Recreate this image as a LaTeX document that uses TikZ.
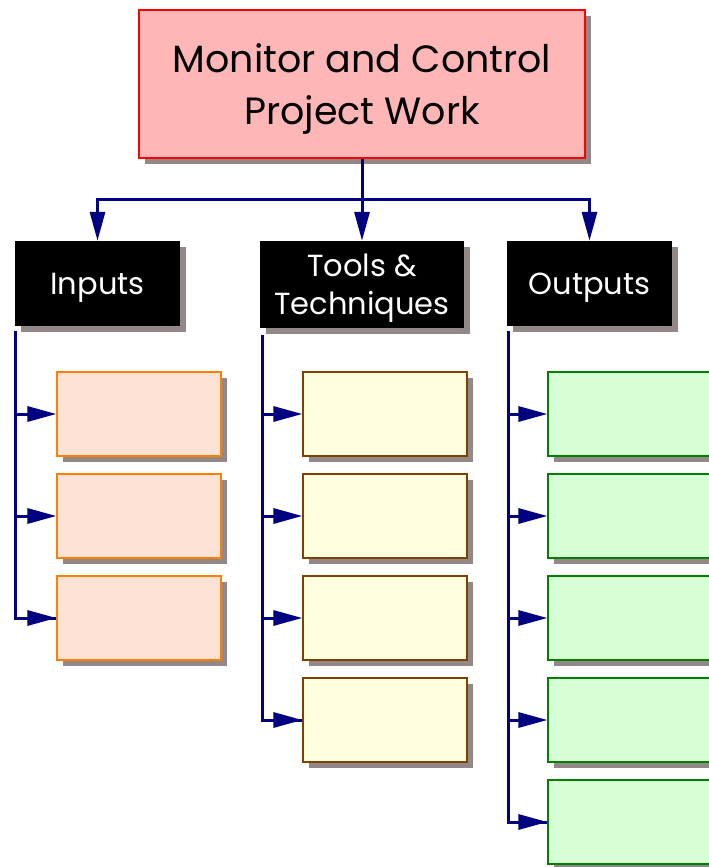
\documentclass[tikz,border=0pt]{standalone}
\usepackage{fontspec}
\setmainfont{Poppins}
\usetikzlibrary{shadows,arrows.meta}

\definecolor{topfill}{HTML}{FFB6B6}
\definecolor{infill}{HTML}{FFE2D6}
\definecolor{inline}{HTML}{FF8000}
\definecolor{toolfill}{HTML}{FFFFE0}
\definecolor{toolline}{HTML}{804000}
\definecolor{outfill}{HTML}{D6FFD6}
\definecolor{outline}{HTML}{008000}
\definecolor{shadowgray}{HTML}{938888}
\definecolor{linknavy}{HTML}{000080}

\tikzset{
  boxshadow/.style={drop shadow={shadow xshift=6pt,shadow yshift=-6pt,fill=shadowgray,opacity=1}},
  topbox/.style={draw=red,fill=topfill,line width=1.5pt,boxshadow,minimum width=446pt,minimum height=148pt,
    align=center,text depth=0pt,font=\fontsize{38}{52}\selectfont},
  headbox/.style={fill=black,text=white,boxshadow,minimum width=165pt,minimum height=85pt,
    align=center,text depth=0pt,font=\fontsize{30.5}{38}\selectfont},
  itembox/.style={line width=1.2pt,boxshadow,minimum width=164pt,minimum height=84pt},
  inbox/.style={itembox,draw=inline,fill=infill},
  toolbox/.style={itembox,draw=toolline,fill=toolfill},
  outbox/.style={itembox,draw=outline,fill=outfill},
  link/.style={draw=linknavy,line width=3pt},
  tip/.style={-{Triangle[length=29pt,width=15pt]}}
}

\begin{document}
\begin{tikzpicture}[x=1pt,y=-1pt]
  \useasboundingbox (0,0) rectangle (709,867);

  \node[topbox] (top) at (362,84) {Monitor and Control\\Project Work};

  \node[headbox] (inhead) at (97.5,283.5) {Inputs};
  \node[headbox,minimum width=204pt,minimum height=87pt] (toolhead) at (362,284.5) {Tools \&\\Techniques};
  \node[headbox] (outhead) at (589.5,283.5) {Outputs};

  \coordinate (bus) at (362,199);
  \draw[link,tip] (top.south) -- (bus) -| (inhead.north);
  \draw[link,tip] (bus) -| (outhead.north);
  \draw[link,tip] (bus) -- (toolhead.north);

  % item boxes
  \foreach \i/\y in {1/414,2/516,3/618}
    \node[inbox] (in\i) at (139,\y) {};
  \foreach \i/\y in {1/414,2/516,3/618,4/720}
    \node[toolbox] (tool\i) at (385,\y) {};
  \foreach \i/\y in {1/414,2/516,3/618,4/720,5/822}
    \node[outbox] (out\i) at (630,\y) {};

  % branches
  \coordinate (inrail) at (15,331);
  \coordinate (toolrail) at (262,335);
  \coordinate (outrail) at (508,331);
  \draw[link] (inrail) |- (in3.west);
  \draw[link] (toolrail) |- (tool4.west);
  \draw[link] (outrail) |- (out5.west);
  \foreach \i in {1,2,3}
    \draw[link,tip] (inrail |- in\i.west) -- (in\i.west);
  \foreach \i in {1,2,3,4}
    \draw[link,tip] (toolrail |- tool\i.west) -- (tool\i.west);
  \foreach \i in {1,2,3,4,5}
    \draw[link,tip] (outrail |- out\i.west) -- (out\i.west);
\end{tikzpicture}
\end{document}
